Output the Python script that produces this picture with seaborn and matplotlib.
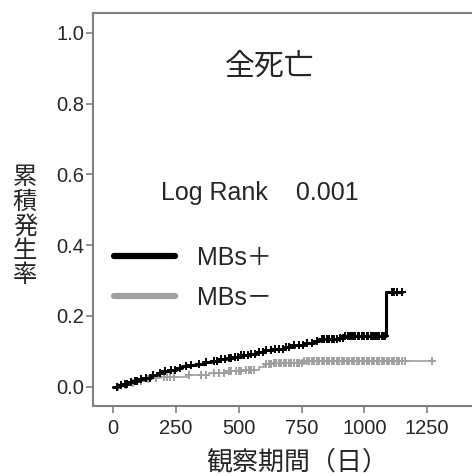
import numpy as np
import pandas as pd
import seaborn as sns
import matplotlib
matplotlib.use('Agg')
import matplotlib.pyplot as plt
from matplotlib.lines import Line2D

# cumulative incidence steps (days, value)
pos_days = [0, 20, 40, 60, 80, 100, 125, 150, 175, 200, 225, 250, 275, 300, 330, 360, 390,
            420, 450, 480, 510, 540, 570, 600, 640, 680, 720, 760, 800, 820, 900, 920, 1088, 1151]
pos_cum = [0.0, 0.004, 0.008, 0.012, 0.016, 0.020, 0.025, 0.032, 0.038, 0.043, 0.048, 0.053,
           0.057, 0.061, 0.065, 0.069, 0.073, 0.077, 0.080, 0.084, 0.088, 0.092, 0.097, 0.103,
           0.107, 0.112, 0.118, 0.123, 0.128, 0.134, 0.137, 0.142, 0.266, 0.266]
pos_cens = [15, 30, 45, 55, 70, 85, 95, 110, 130, 145, 160, 185, 205, 230, 245, 265, 290, 310,
            340, 370, 400, 415, 430, 445, 460, 470, 485, 495, 510, 520, 535, 550, 565, 580, 595,
            610, 630, 645, 660, 675, 690, 700, 720, 740, 755, 770, 790, 810, 830, 840, 850, 860,
            870, 880, 890, 905, 915, 925, 935, 945, 950, 960, 965, 975, 980, 990, 1000, 1010,
            1015, 1025, 1030, 1040, 1045, 1055, 1060, 1070, 1075, 1082, 1110, 1120, 1130, 1151]

neg_days = [0, 30, 60, 90, 120, 150, 190, 300, 380, 450, 520, 580, 600, 640, 760, 1270]
neg_cum = [0.0, 0.005, 0.010, 0.015, 0.020, 0.025, 0.028, 0.033, 0.038, 0.043, 0.047, 0.054,
           0.063, 0.068, 0.072, 0.072]
neg_cens = [20, 50, 80, 110, 140, 170, 200, 215, 225, 240, 300, 350, 370, 400, 420, 440, 460,
            470, 490, 500, 510, 530, 540, 550, 560, 610, 620, 630, 640, 650, 660, 670, 680, 690,
            700, 710, 720, 730, 740, 750, 760, 770, 780, 790, 800, 810, 820, 830, 840, 850, 860,
            870, 880, 890, 900, 910, 920, 930, 940, 950, 960, 970, 980, 990, 1000, 1010, 1020,
            1030, 1040, 1050, 1060, 1070, 1080, 1090, 1100, 1110, 1120, 1130, 1140, 1150,
            1163, 1270]

x_ticks = [0, 250, 500, 750, 1000, 1250]
y_ticks = [0.0, 0.2, 0.4, 0.6, 0.8, 1.0]

sns.set_style('ticks')
plt.rcParams['font.family'] = ['Liberation Sans', 'Noto Sans CJK JP', 'DejaVu Sans']

fig = plt.figure(figsize=(4.72, 4.76), dpi=100)
ax = fig.add_axes([0.197, 0.147, 0.83, 0.8256])

black = '#000000'
gray = '#a0a0a0'


def step_at(days, cum, t):
    i = np.searchsorted(days, t, side='right') - 1
    return np.array(cum)[i]


sns.lineplot(x=neg_days, y=neg_cum, drawstyle='steps-post', color=gray, lw=1.2, ax=ax)
ax.plot(neg_cens, step_at(neg_days, neg_cum, neg_cens), ls='none', marker='+',
        ms=6, mew=1.4, color=gray)
sns.lineplot(x=pos_days, y=pos_cum, drawstyle='steps-post', color=black, lw=2.2, ax=ax)
ax.plot(pos_cens, step_at(pos_days, pos_cum, pos_cens), ls='none', marker='+',
        ms=6, mew=1.4, color=black)

ax.set_xlim(-81, 1480)
ax.set_ylim(-0.055, 1.056)
ax.set_xticks(x_ticks)
ax.set_yticks(y_ticks)
ax.set_yticklabels([f'{v:.1f}' for v in y_ticks])
ax.tick_params(axis='both', labelsize=14.5, color='#808080', length=5, width=1.2)
ax.tick_params(axis='y', pad=1.5)
ax.tick_params(axis='x', pad=4)
for s in ['left', 'bottom', 'top']:
    ax.spines[s].set_color('#808080')
    ax.spines[s].set_linewidth(1.5)
ax.spines['right'].set_visible(False)
ax.set_xlabel('')
ax.set_ylabel('')

ax.text(625, 0.903, '全死亡', ha='center', va='center', fontsize=21.5)
ax.text(585, 0.547, 'Log Rank    0.001', ha='center', va='center', fontsize=18)

handles = [Line2D([], [], color=black, lw=4.5), Line2D([], [], color=gray, lw=4.5)]
ax.legend(handles, ['MBs＋', 'MBs－'], loc='upper left', bbox_to_anchor=(0.053, 0.407),
          frameon=False, fontsize=18, handlelength=2.45, handletextpad=0.9,
          labelspacing=0.62, borderpad=0, borderaxespad=0)

fig.text(0.053, 0.523, '累\n積\n発\n生\n率', ha='center', va='center', fontsize=17.5,
         linespacing=1.12)
fig.text(0.63, 0.004, '観察期間（日）', ha='center', va='bottom', fontsize=18.7)

fig.savefig('out.png', dpi=100)
